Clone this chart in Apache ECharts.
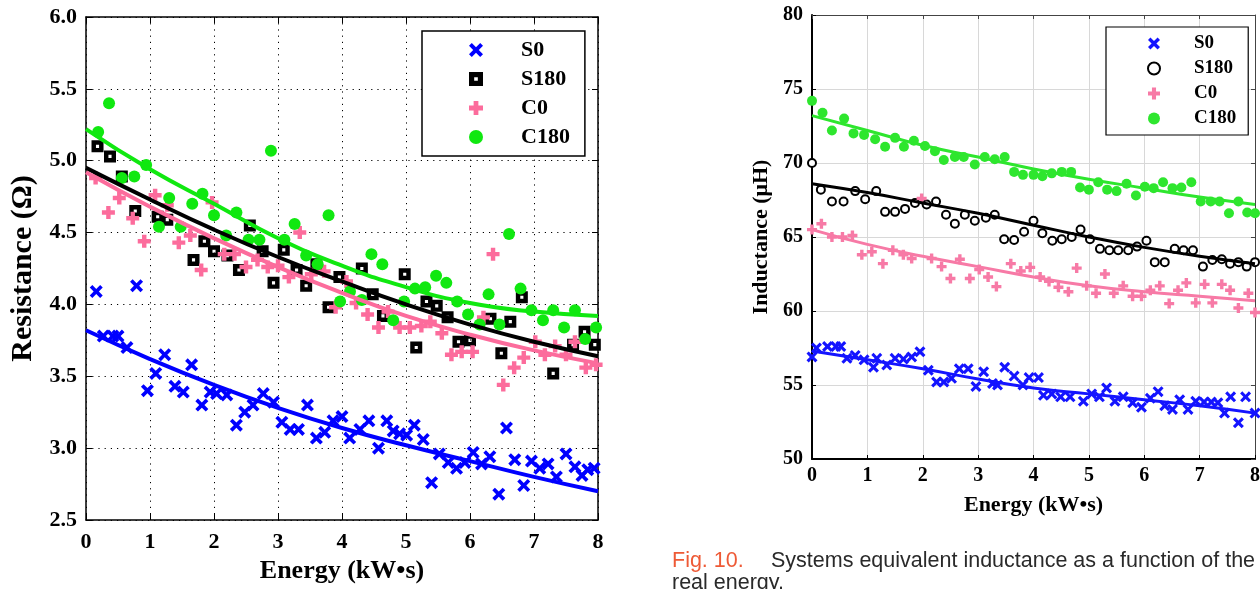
<!DOCTYPE html>
<html>
<head>
<meta charset="utf-8">
<script src="https://cdn.jsdelivr.net/npm/echarts@6/dist/echarts.min.js"></script>
<style>
html,body{margin:0;padding:0;background:#fff;width:1260px;height:589px;overflow:hidden;}
#left{position:absolute;left:0;top:0;width:640px;height:589px;}
#right{position:absolute;left:640px;top:0;width:660px;height:589px;}
.cap{position:absolute;font-family:'Liberation Sans',Arial,sans-serif;font-size:21.5px;line-height:21px;color:#2a2a2a;white-space:nowrap;z-index:5;}
</style>
</head>
<body>
<div id="left"></div>
<div id="right"></div>
<div class="cap" style="left:672px;top:550px;color:#ee5a36;">Fig. 10.</div>
<div class="cap" style="left:771px;top:550px;">Systems equivalent inductance as a function of the</div>
<div class="cap" style="left:672px;top:572px;">real energy.</div>
<script>
// ---------- Data: left chart (Resistance, Ω) ----------
const seriesNames = ['S0', 'S180', 'C0', 'C180'];
const xTicks = [0, 1, 2, 3, 4, 5, 6, 7, 8];

const resS0 = [[0.16,4.09],[0.79,4.13],[0.27,3.78],[0.42,3.78],[0.5,3.78],[0.64,3.70],[0.96,3.40],[1.09,3.52],[1.23,3.65],[1.39,3.43],[1.52,3.39],[1.65,3.58],[1.81,3.30],[1.94,3.39],[2.04,3.38],[2.2,3.37],[2.35,3.16],[2.48,3.25],[2.61,3.30],[2.77,3.38],[2.93,3.32],[3.06,3.18],[3.19,3.13],[3.32,3.13],[3.46,3.30],[3.6,3.07],[3.73,3.11],[3.86,3.19],[4.0,3.22],[4.12,3.07],[4.28,3.13],[4.42,3.19],[4.57,3.0],[4.7,3.19],[4.8,3.12],[4.9,3.10],[5.01,3.09],[5.13,3.16],[5.27,3.06],[5.4,2.76],[5.52,2.96],[5.66,2.90],[5.79,2.86],[5.92,2.90],[6.05,2.97],[6.18,2.89],[6.31,2.94],[6.45,2.68],[6.57,3.14],[6.7,2.92],[6.84,2.74],[6.96,2.91],[7.09,2.86],[7.22,2.89],[7.35,2.80],[7.5,2.96],[7.64,2.87],[7.75,2.81],[7.84,2.85],[7.94,2.86]];
const resS180 = [[0.18,5.10],[0.375,5.03],[0.56,4.89],[0.77,4.65],[1.12,4.61],[1.27,4.59],[1.68,4.31],[1.85,4.44],[2.0,4.37],[2.21,4.34],[2.39,4.24],[2.56,4.55],[2.76,4.37],[2.93,4.15],[3.09,4.38],[3.29,4.24],[3.44,4.13],[3.6,4.28],[3.79,3.98],[3.96,4.19],[4.31,4.25],[4.48,4.07],[4.64,3.92],[4.98,4.21],[5.16,3.70],[5.32,4.02],[5.48,3.99],[5.65,3.91],[5.82,3.74],[6.0,3.75],[6.32,3.90],[6.49,3.66],[6.63,3.88],[6.81,4.05],[7.3,3.52],[7.61,3.72],[7.79,3.81],[7.95,3.72]];
const resC0 = [[0.15,4.88],[0.35,4.64],[0.52,4.74],[0.73,4.60],[0.91,4.44],[1.08,4.76],[1.27,4.69],[1.45,4.43],[1.63,4.48],[1.80,4.24],[1.97,4.71],[2.16,4.35],[2.32,4.35],[2.5,4.26],[2.68,4.31],[2.84,4.26],[3.0,4.27],[3.17,4.19],[3.34,4.50],[3.52,4.21],[3.72,4.23],[3.9,3.98],[4.07,4.16],[4.22,4.01],[4.4,3.93],[4.57,3.84],[4.72,3.95],[4.9,3.84],[5.06,3.84],[5.24,3.85],[5.38,3.88],[5.56,3.80],[5.71,3.65],[5.87,3.67],[6.04,3.67],[6.21,3.91],[6.36,4.35],[6.52,3.44],[6.69,3.56],[6.84,3.63],[7.02,3.74],[7.17,3.65],[7.33,3.71],[7.5,3.65],[7.64,3.74],[7.81,3.56],[7.97,3.58]];
const resC180 = [[0.19,5.20],[0.36,5.40],[0.56,4.88],[0.755,4.89],[0.94,4.97],[1.14,4.54],[1.30,4.74],[1.48,4.54],[1.66,4.70],[1.82,4.77],[2.0,4.62],[2.19,4.48],[2.35,4.64],[2.54,4.45],[2.71,4.45],[2.89,5.07],[3.1,4.45],[3.26,4.56],[3.44,4.34],[3.62,4.28],[3.79,4.62],[3.97,4.02],[4.125,4.09],[4.31,4.03],[4.46,4.35],[4.63,4.28],[4.8,3.89],[4.97,4.02],[5.14,4.11],[5.3,4.12],[5.47,4.20],[5.63,4.15],[5.8,4.02],[5.97,3.93],[6.15,3.86],[6.29,4.07],[6.46,3.86],[6.61,4.49],[6.79,4.11],[6.96,3.96],[7.14,3.89],[7.3,3.96],[7.47,3.84],[7.64,3.96],[7.8,3.76],[7.97,3.84]];

const fitX = [0, 1, 2, 3, 4, 5, 6, 7, 8];
const resFitS0 = [3.82, 3.62, 3.44, 3.28, 3.14, 3.02, 2.91, 2.80, 2.70];
const resFitS180 = [4.95, 4.73, 4.52, 4.33, 4.16, 4.00, 3.86, 3.74, 3.64];
const resFitC0 = [4.92, 4.68, 4.46, 4.26, 4.08, 3.92, 3.79, 3.68, 3.59];
const resFitC180 = [5.22, 4.94, 4.70, 4.46, 4.27, 4.12, 4.01, 3.95, 3.92];
const resYTicks = [2.5, 3.0, 3.5, 4.0, 4.5, 5.0, 5.5, 6.0];

// ---------- Data: right chart (Inductance, μH) ----------
const indS0 = [[0,56.9],[0.08,57.5],[0.28,57.6],[0.43,57.6],[0.52,57.6],[0.63,56.8],[0.78,57.0],[0.94,56.7],[1.11,56.2],[1.17,56.8],[1.35,56.35],[1.5,56.8],[1.65,56.75],[1.8,56.9],[1.95,57.25],[2.1,56.0],[2.25,55.2],[2.38,55.2],[2.52,55.45],[2.66,56.1],[2.82,56.1],[2.96,54.9],[3.1,55.9],[3.26,55.1],[3.35,55.0],[3.48,56.2],[3.65,55.6],[3.81,55.0],[3.92,55.5],[4.09,55.5],[4.18,54.3],[4.33,54.4],[4.49,54.2],[4.66,54.2],[4.9,53.9],[5.05,54.4],[5.19,54.2],[5.32,54.8],[5.47,53.9],[5.62,54.2],[5.79,53.8],[5.95,53.5],[6.11,54.1],[6.25,54.55],[6.37,53.6],[6.51,53.35],[6.64,54.0],[6.79,53.35],[6.93,53.9],[7.08,53.85],[7.21,53.85],[7.33,53.8],[7.45,53.1],[7.56,54.2],[7.7,52.45],[7.83,54.2],[8.0,53.1]];
const indS180 = [[0,70.0],[0.16,68.2],[0.36,67.4],[0.57,67.4],[0.78,68.1],[0.96,67.55],[1.16,68.1],[1.32,66.7],[1.5,66.7],[1.68,66.9],[1.86,67.3],[2.07,67.2],[2.24,67.4],[2.42,66.5],[2.58,65.9],[2.76,66.5],[2.94,66.1],[3.14,66.3],[3.3,66.5],[3.47,64.85],[3.65,64.8],[3.83,65.35],[4.0,66.1],[4.16,65.25],[4.34,64.75],[4.51,64.85],[4.69,65.0],[4.85,65.5],[5.02,64.85],[5.2,64.2],[5.37,64.1],[5.53,64.1],[5.71,64.1],[5.87,64.35],[6.04,64.75],[6.19,63.3],[6.37,63.3],[6.55,64.2],[6.71,64.1],[6.88,64.1],[7.06,63.0],[7.23,63.45],[7.4,63.5],[7.55,63.2],[7.7,63.3],[7.85,63.0],[8.0,63.3]];
const indC0 = [[0,65.5],[0.17,65.9],[0.36,65.0],[0.55,65.0],[0.73,65.1],[0.9,63.8],[1.08,64.0],[1.28,63.2],[1.46,64.1],[1.65,63.8],[1.8,63.55],[1.98,67.6],[2.16,63.55],[2.34,63.0],[2.5,62.2],[2.67,63.5],[2.85,62.2],[3.02,62.8],[3.18,62.3],[3.33,61.65],[3.59,63.2],[3.77,62.7],[3.94,62.95],[4.12,62.3],[4.28,62.0],[4.45,61.6],[4.63,61.3],[4.78,62.9],[4.96,61.7],[5.13,61.2],[5.29,62.5],[5.45,61.2],[5.62,61.7],[5.79,61.0],[5.95,61.0],[6.11,61.4],[6.28,61.7],[6.45,60.5],[6.61,61.4],[6.76,61.9],[6.93,60.55],[7.09,61.8],[7.23,60.55],[7.4,61.8],[7.55,61.4],[7.7,60.2],[7.88,61.2],[8.0,59.9]];
const indC180 = [[0,74.2],[0.19,73.4],[0.36,72.2],[0.58,73.0],[0.75,72.0],[0.94,71.9],[1.14,71.6],[1.32,71.1],[1.5,71.7],[1.66,71.1],[1.84,71.5],[2.04,71.15],[2.22,70.8],[2.38,70.2],[2.58,70.4],[2.74,70.4],[2.94,69.9],[3.12,70.4],[3.3,70.25],[3.48,70.4],[3.65,69.4],[3.81,69.2],[4.0,69.2],[4.16,69.1],[4.33,69.3],[4.51,69.4],[4.68,69.4],[4.84,68.35],[5.0,68.2],[5.17,68.7],[5.33,68.2],[5.5,68.1],[5.68,68.6],[5.85,67.8],[6.01,68.4],[6.17,68.3],[6.34,68.7],[6.51,68.3],[6.67,68.35],[6.85,68.7],[7.02,67.4],[7.2,67.4],[7.36,67.4],[7.53,66.6],[7.7,67.4],[7.86,66.65],[8.0,66.6]];

const indFitS0 = [57.3, 56.7, 56.1, 55.4, 54.8, 54.4, 54.0, 53.6, 53.1];
const indFitS180 = [68.6, 68.0, 67.3, 66.6, 65.8, 65.0, 64.3, 63.7, 63.2];
const indFitC0 = [65.5, 64.5, 63.7, 63.0, 62.3, 61.7, 61.3, 61.0, 60.7];
const indFitC180 = [73.2, 72.2, 71.2, 70.4, 69.6, 68.9, 68.3, 67.7, 67.2];
const indYTicks = [50, 55, 60, 65, 70, 75, 80];

// ---------- Styling ----------
const SERIF = "'Liberation Serif','Times New Roman',serif";
const SYM_X = 'path://M2,0 L5,3 L8,0 L10,2 L7,5 L10,8 L8,10 L5,7 L2,10 L0,8 L3,5 L0,2 Z';
const SYM_PLUS = 'path://M3.3,0 H6.7 V3.3 H10 V6.7 H6.7 V10 H3.3 V6.7 H0 V3.3 H3.3 Z';
const SYM_SQ = 'path://M0,0 H10 V10 H0 Z M3.7,3.7 V6.3 H6.3 V3.7 Z';

function fitPairs(ys) { return fitX.map((x, i) => [x, ys[i]]); }

function buildOption(cfg) {
  const boxAxis = (pos, isX) => ({
    type: 'value', min: cfg[isX ? 'xMin' : 'yMin'], max: cfg[isX ? 'xMax' : 'yMax'],
    interval: cfg[isX ? 'xInt' : 'yInt'], position: pos,
    axisLine: { show: true, onZero: false, lineStyle: { color: cfg.boxColor, width: cfg.boxWidth } },
    axisTick: { show: true, inside: true, length: cfg.tickLen, lineStyle: { color: cfg.boxColor, width: 1 } },
    axisLabel: { show: false }, splitLine: { show: false }
  });
  const mainAxis = (isX) => ({
    type: 'value', min: cfg[isX ? 'xMin' : 'yMin'], max: cfg[isX ? 'xMax' : 'yMax'],
    interval: cfg[isX ? 'xInt' : 'yInt'], position: isX ? 'bottom' : 'left',
    name: isX ? cfg.xName : cfg.yName, nameLocation: 'middle',
    nameGap: isX ? cfg.xNameGap : cfg.yNameGap,
    nameTextStyle: { fontFamily: SERIF, fontWeight: 'bold', fontSize: isX ? cfg.xNameSize : cfg.yNameSize, color: '#000' },
    axisLine: { show: true, onZero: false, lineStyle: { color: '#000', width: cfg.axisWidth } },
    axisTick: { show: true, inside: true, length: cfg.tickLen, lineStyle: { color: '#000', width: 1 } },
    axisLabel: {
      fontFamily: SERIF, fontWeight: 'bold', fontSize: cfg.tickSize, color: '#000',
      margin: isX ? cfg.xLabelMargin : cfg.yLabelMargin,
      formatter: isX ? (v => String(v)) : cfg.yFormatter
    },
    splitLine: { show: true, lineStyle: cfg.gridStyle }
  });
  const scat = (name, data, symbol, size, color, extra) => Object.assign({
    name, type: 'scatter', data, symbol, symbolSize: size,
    itemStyle: { color, opacity: 1 }, xAxisIndex: 0, yAxisIndex: 0, z: 2, silent: true
  }, extra || {});
  const line = (name, ys, color) => ({
    name: name + ' fit', type: 'line', data: fitPairs(ys), smooth: true, showSymbol: false,
    symbol: 'none', lineStyle: { color, width: cfg.lineWidth }, xAxisIndex: 0, yAxisIndex: 0, z: 3, silent: true
  });
  const c = cfg.colors;
  return {
    animation: false,
    backgroundColor: 'transparent',
    grid: { left: cfg.gridLeft, top: cfg.gridTop, width: cfg.gridWidth, height: cfg.gridHeight, containLabel: false },
    xAxis: [mainAxis(true), boxAxis('top', true)],
    yAxis: [mainAxis(false), boxAxis('right', false)],
    legend: {
      data: seriesNames, orient: 'vertical', left: cfg.legLeft, top: cfg.legTop,
      itemWidth: cfg.legItemW, itemHeight: cfg.legItemH, itemGap: cfg.legGap,
      padding: cfg.legPad, borderColor: '#000', borderWidth: cfg.legBorder, backgroundColor: '#fff',
      selectedMode: false,
      textStyle: { fontFamily: SERIF, fontWeight: 'bold', fontSize: cfg.legFont, lineHeight: cfg.legFont, color: '#000' }
    },
    series: [
      scat('S0', cfg.d[0], SYM_X, cfg.sizes[0], c[0]),
      scat('S180', cfg.d[1], cfg.s180Symbol, cfg.sizes[1], c[1], cfg.s180Extra),
      scat('C0', cfg.d[2], SYM_PLUS, cfg.sizes[2], c[2]),
      scat('C180', cfg.d[3], 'circle', cfg.sizes[3], c[3]),
      line('S0', cfg.f[0], c[0]),
      line('S180', cfg.f[1], c[1]),
      line('C0', cfg.f[2], c[2]),
      line('C180', cfg.f[3], c[3])
    ]
  };
}

const leftChart = echarts.init(document.getElementById('left'));
leftChart.setOption(buildOption({
  xMin: 0, xMax: 8, xInt: 1, yMin: resYTicks[0], yMax: resYTicks[resYTicks.length - 1], yInt: 0.5,
  gridLeft: 86, gridTop: 17, gridWidth: 512, gridHeight: 506,
  xName: 'Energy (kW•s)', yName: 'Resistance (Ω)', xNameGap: 38, yNameGap: 44,
  xNameSize: 26, yNameSize: 30, tickSize: 22, xLabelMargin: 11, yLabelMargin: 9,
  yFormatter: v => v.toFixed(1),
  axisWidth: 1.5, boxColor: '#000', boxWidth: 1.5, tickLen: 6,
  gridStyle: { color: '#000', type: [1.2, 5], width: 1 },
  lineWidth: 4,
  colors: ['#0000ff', '#000000', '#fc6c9c', '#10e810'],
  sizes: [13, 12, 13, 12],
  s180Symbol: SYM_SQ, s180Extra: null,
  d: [resS0, resS180, resC0, resC180],
  f: [resFitS0, resFitS180, resFitC0, resFitC180],
  legLeft: 422, legTop: 31, legItemW: 80, legItemH: 14, legGap: 7, legPad: [8, 15, 8, 47], legBorder: 1.5, legFont: 22
}));

const rightChart = echarts.init(document.getElementById('right'));
rightChart.setOption(buildOption({
  xMin: 0, xMax: 8, xInt: 1, yMin: indYTicks[0], yMax: indYTicks[indYTicks.length - 1], yInt: 5,
  gridLeft: 172, gridTop: 15, gridWidth: 443, gridHeight: 444,
  xName: 'Energy (kW•s)', yName: 'Inductance (μH)', xNameGap: 35, yNameGap: 33,
  xNameSize: 22, yNameSize: 22, tickSize: 20, xLabelMargin: 7, yLabelMargin: 9,
  yFormatter: v => String(v),
  axisWidth: 2, boxColor: '#444', boxWidth: 1, tickLen: 4,
  gridStyle: { color: '#d8d8d8', type: 'solid', width: 1 },
  lineWidth: 3,
  colors: ['#1414ff', '#000000', '#f77aa6', '#2ee62e'],
  sizes: [11, 8, 10, 10],
  s180Symbol: 'emptyCircle', s180Extra: { itemStyle: { color: '#000', borderColor: '#000', borderWidth: 3, opacity: 1 } },
  d: [indS0, indS180, indC0, indC180],
  f: [indFitS0, indFitS180, indFitC0, indFitC180],
  legLeft: 466, legTop: 27, legItemW: 70, legItemH: 12, legGap: 6, legPad: [7, 12, 7, 41], legBorder: 1.2, legFont: 19
}));
</script>
</body>
</html>
